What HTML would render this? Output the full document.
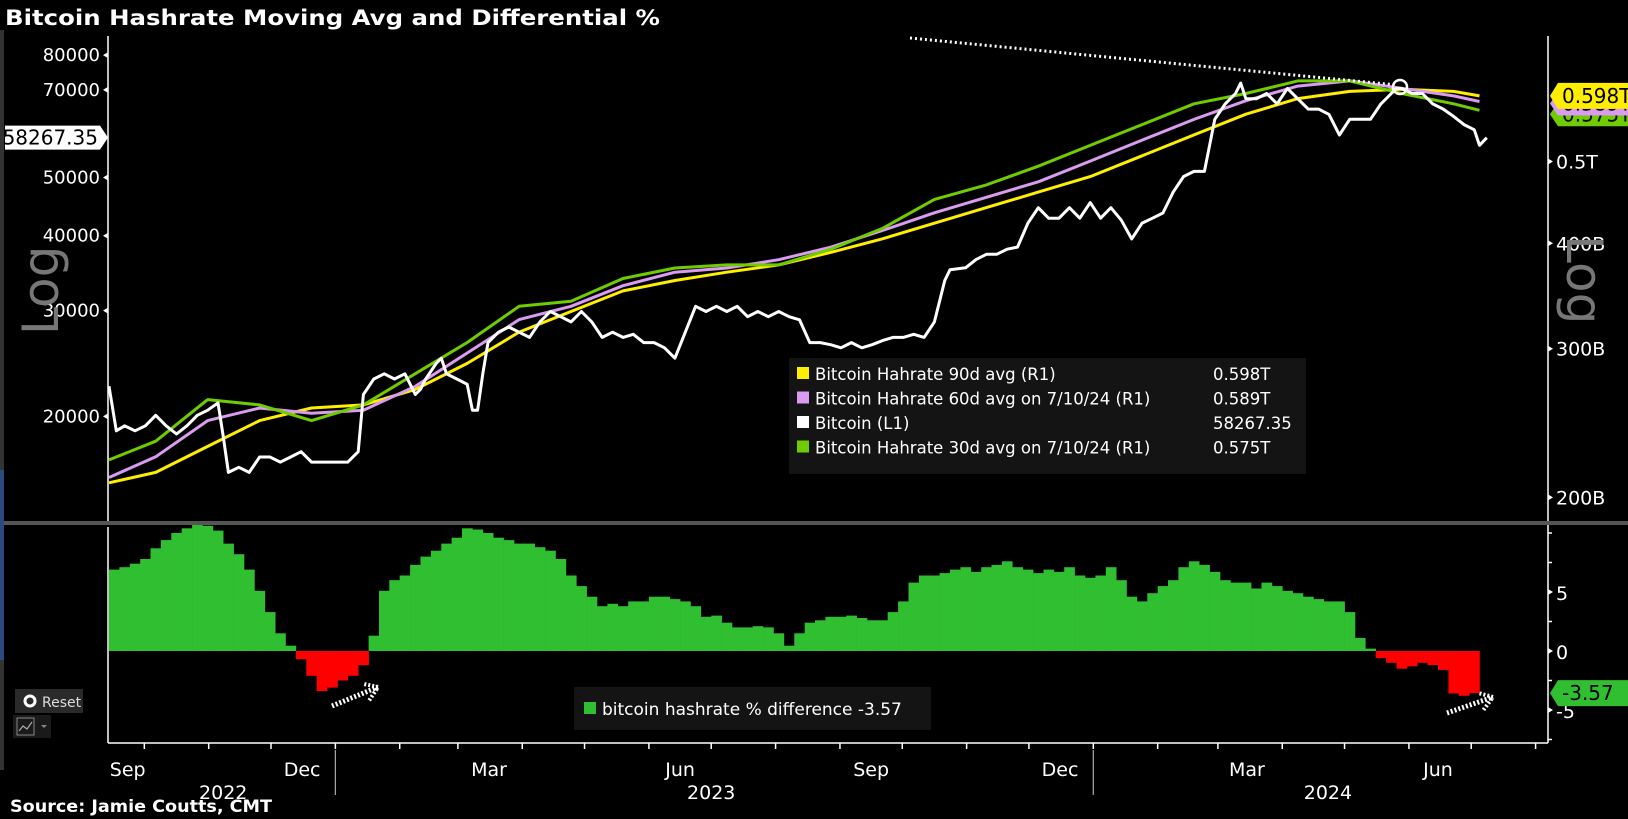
<!DOCTYPE html>
<html><head><meta charset="utf-8"><style>
html,body{margin:0;padding:0;background:#000;}
svg{display:block;font-family:"DejaVu Sans","Liberation Sans",sans-serif;}
</style></head><body>
<svg id="chart" width="1628" height="819" viewBox="0 0 1628 819" xmlns="http://www.w3.org/2000/svg">
<rect x="0" y="0" width="1628" height="819" fill="#000"/>
<rect x="0" y="30" width="4" height="740" fill="#333"/>
<rect x="0" y="470" width="4" height="190" fill="#2a4a80"/>
<text x="5" y="25" fill="#fff" font-weight="bold" font-size="21" textLength="655" lengthAdjust="spacingAndGlyphs">Bitcoin Hashrate Moving Avg and Differential %</text>
<text x="10" y="812" fill="#fff" font-weight="bold" font-size="17" textLength="262" lengthAdjust="spacingAndGlyphs">Source: Jamie Coutts, CMT</text>
<g id="topPanel"></g>
<g id="bottomPanel"></g>
<g id="axesGroup"></g>
</svg>
<script>
// ---- data ----
const btcSeries = [[0,22450],[3.5,18920],[7.5,19290],[12.5,18920],[17.5,19290],[22.5,20080],[27.5,19290],[32.5,18690],[37.5,19290],[42.5,20080],[47.5,20480],[52.5,21060],[55,18540],[57.5,16130],[62.5,16450],[67.5,16130],[72.5,17110],[77.5,17110],[82.5,16780],[87.5,17110],[92.5,17460],[97.5,16780],[107.5,16780],[115,16780],[120,17460],[122.5,21750],[127.5,23080],[132.5,23550],[137.5,23080],[142.5,23550],[147.5,21750],[150,22190],[152.5,23080],[157.5,24500],[160,25000],[162.5,23550],[167.5,23080],[172.5,22620],[175,20480],[177.5,20480],[180,23550],[182.5,26540],[187.5,27620],[192.5,28180],[197.5,27620],[202.5,27080],[207.5,28740],[212.5,29900],[217.5,29320],[222.5,28740],[227.5,29900],[232.5,28740],[237.5,27080],[242.5,27620],[247.5,27080],[252.5,27400],[257.5,26540],[262.5,26540],[267.5,26020],[272.5,25000],[277.5,27620],[282.5,30510],[287.5,29900],[292.5,30510],[297.5,29900],[302.5,30510],[307.5,29320],[312.5,29900],[317.5,29320],[322.5,29900],[327.5,29320],[332.5,28970],[337.5,26540],[342.5,26540],[347.5,26330],[352.5,26020],[357.5,26540],[362.5,26020],[367.5,26330],[372.5,26750],[377.5,27080],[382.5,27080],[387.5,27400],[392.5,27080],[397.5,28740],[402.5,33700],[405,35090],[412.5,35360],[417.5,36500],[422.5,37240],[427.5,37240],[432.5,37980],[437.5,38290],[442.5,41980],[447.5,44530],[452.5,42780],[457.5,42780],[462.5,44530],[467.5,42780],[472.5,45420],[477.5,42780],[482.5,44530],[487.5,42460],[492.5,39520],[497.5,41980],[502.5,42780],[507.5,43650],[512.5,47280],[517.5,50200],[522.5,51200],[527.5,51200],[532.5,62520],[537.5,66320],[542.5,69020],[545,71840],[547.5,67650],[552.5,67650],[557.5,69020],[562.5,66320],[567.5,70400],[572.5,67650],[577.5,65010],[582.5,65010],[587.5,63720],[592.5,58880],[597.5,62520],[602.5,62520],[607.5,62520],[612.5,66320],[617.5,69020],[620,70400],[622.5,70400],[627.5,69020],[632.5,69020],[637.5,66320],[642.5,65010],[647.5,63220],[652.5,61270],[657.5,60060],[660,56580],[663.5,58267.35]];
const maDay = [0,22.5,47.5,72.5,97.5,122.5,147.5,172.5,197.5,222.5,247.5,272.5,297.5,322.5,347.5,372.5,397.5,422.5,447.5,472.5,497.5,522.5,547.5,572.5,597.5,622.5,647.5,660];
const ma90 = [208.1,214.1,229.8,246.6,255.2,257.4,268.5,288.2,313.9,332.1,351.3,361.4,369.7,377.1,390.2,404.9,422.5,440.9,459.9,479.8,507.8,537.7,568.9,593.6,605.4,608.8,605.4,598];
const ma60 = [211.1,223.4,246.6,255.2,251.6,253.7,270.8,296.5,324.8,336.8,356.3,369.7,373.9,382.5,395.7,414.2,434.7,453.5,473.1,500.6,530.1,560.9,590.2,614.2,623,610.6,598,589];
const ma30 = [221.5,233.1,261.1,257.4,246.6,257.4,280.2,305.1,336.8,341.5,363.4,373.9,377.1,377.1,393.5,416.6,450.9,469.1,493.6,522.5,553,585.2,602,623,623,602,585.2,575];
const histDiff = [6.9,7.1,7.4,7.8,8.7,9.4,10,10.4,10.7,10.6,10.2,9.1,8.2,6.9,5.1,3.3,1.5,0.45,-0.7,-2.1,-3.4,-3.1,-2.5,-2.1,-1.2,1.3,5.1,6,6.4,7.3,8.0,8.5,9.1,9.6,10.4,10.3,10,9.6,9.4,9.1,9.1,8.8,8.5,7.8,6.4,5.5,4.6,3.8,4,3.8,4.2,4.2,4.6,4.6,4.4,4.2,3.8,2.9,3.0,2.4,2.0,2.0,2.1,2.0,1.5,0.45,1.5,2.4,2.6,2.9,2.9,3.0,2.8,2.6,2.6,3.3,4.2,5.8,6.4,6.4,6.6,6.9,7.1,6.7,7.1,7.3,7.6,7.1,6.9,6.6,6.9,6.7,7.1,6.4,6.2,6.4,7.1,6,4.6,4.2,4.9,5.5,6,7.1,7.6,7.3,6.7,6,5.8,5.8,5.3,5.8,5.5,5.1,4.9,4.6,4.4,4.2,4.2,3.3,1.1,0.2,-0.6,-1.0,-1.5,-1.3,-1.0,-1.2,-1.6,-3.6,-3.8,-3.57];
const leftTicks = [20000,30000,40000,50000,70000,80000];
const rightTicks = [200,300,400,500];
const rightTickLabels = ["200B","300B","400B","0.5T"];
const diffTicks = [-5,0,5];
const monthLabels = ["Sep","Dec","Mar","Jun","Sep","Dec","Mar","Jun"];
const monthLabelDay = [9,93,183,275,367,458,548,640];
const yearLabels = ["2022","2023","2024"];
const yearLabelDay = [55,290,587];
const yearSepDay = [109,474];
const legendNames = ["Bitcoin Hahrate 90d avg (R1)","Bitcoin Hahrate 60d avg  on 7/10/24 (R1)","Bitcoin (L1)","Bitcoin Hahrate 30d avg on 7/10/24 (R1)"];
const legendValues = ["0.598T","0.589T","58267.35","0.575T"];

// ---- scales ----
const S = 1628/1568;
const X0 = 108, X1 = 1548, TOP0 = 36, TOP1 = 521, BOT0 = 527, BOT1 = 743;
function xs(d){ return S*(105 + 2*d); }
function yL(v){ return S*(401 - 251*Math.log(v/20000)); }
function yR(v){ return S*(479 - 353*Math.log(v/200)); }
function yD(v){ return 651 - 11.8*v; }
const NS = "http://www.w3.org/2000/svg";
function mk(tag, attrs, parent){ const e = document.createElementNS(NS, tag); for (const k in attrs) e.setAttribute(k, attrs[k]); parent.appendChild(e); return e; }
const svgRoot = document.getElementById('chart');
const topG = document.getElementById('topPanel');
const botG = document.getElementById('bottomPanel');
const axG = document.getElementById('axesGroup');

const defs = mk('defs', {}, svgRoot);
const cp = mk('clipPath', {id:'clipTop'}, defs);
mk('rect', {x:X0, y:TOP0, width:X1-X0, height:TOP1-TOP0}, cp);
topG.setAttribute('clip-path','url(#clipTop)');

// ---- histogram ----
histDiff.forEach((v,i)=>{
  const d = 2.5 + 5*i;
  const xa = xs(d-2.5), xb = xs(d+2.5);
  const y0 = yD(0), y1 = yD(v);
  const r = mk('rect', {x:xa.toFixed(1), y:Math.min(y0,y1).toFixed(1), width:(xb-xa+0.3).toFixed(1), height:Math.max(0.5,Math.abs(y1-y0)).toFixed(1), fill: v>=0 ? '#30bf30' : '#ff0000'}, botG);
  
  
});

// ---- lines ----
function drawLine(days, vals, yfn, color, w, name){
  let p = '';
  days.forEach((d,i)=>{ p += (i?'L':'M') + xs(d).toFixed(1) + ' ' + yfn(vals[i]).toFixed(1); });
  const e = mk('path', {d:p, fill:'none', stroke:color, 'stroke-width':w, 'stroke-linejoin':'round'}, topG);
  
  
}
drawLine(maDay, ma90, yR, '#ffee00', 3, 'hashrate-90d-line');
drawLine(maDay, ma60, yR, '#da9cf0', 3, 'hashrate-60d-line');
drawLine(maDay, ma30, yR, '#6fcc00', 3, 'hashrate-30d-line');
drawLine(btcSeries.map(p=>p[0]), btcSeries.map(p=>p[1]), yL, '#ffffff', 3, 'bitcoin-price-line');

const tl = mk('line', {x1:910, y1:38, x2:1397, y2:85, stroke:'#fff', 'stroke-width':3, 'stroke-dasharray':'2 3'}, svgRoot);


const cc = mk('circle', {cx:1400, cy:87, r:7, fill:'none', stroke:'#fff', 'stroke-width':2.5}, svgRoot);



// ---- axes ----
mk('line', {x1:X0, y1:TOP0, x2:X0, y2:TOP1, stroke:'#fff', 'stroke-width':1.5}, axG);
mk('line', {x1:X0, y1:BOT0, x2:X0, y2:BOT1, stroke:'#fff', 'stroke-width':1.5}, axG);
mk('line', {x1:X1, y1:TOP0, x2:X1, y2:BOT1, stroke:'#fff', 'stroke-width':1.5}, axG);
mk('line', {x1:X0, y1:BOT1, x2:X1, y2:BOT1, stroke:'#fff', 'stroke-width':1.5}, axG);
const sep = mk('rect', {x:4, y:521, width:1624, height:4, fill:'#555'}, axG);



leftTicks.forEach(v=>{
  const y = yL(v);
  mk('path', {d:`M${X0} ${y-3}L${X0-5} ${y}L${X0} ${y+3}Z`, fill:'#fff'}, axG);
  const t = mk('text', {x:X0-8, y:y+6, fill:'#fff', 'font-size':18, 'text-anchor':'end'}, axG);
  t.textContent = v;
  
  
});
rightTicks.forEach((v,i)=>{
  const y = yR(v);
  mk('path', {d:`M${X1} ${y-3}L${X1+5} ${y}L${X1} ${y+3}Z`, fill:'#fff'}, axG);
  const t = mk('text', {x:X1+8, y:y+7, fill:'#fff', 'font-size':19}, axG);
  t.textContent = rightTickLabels[i];
  
  
});
diffTicks.forEach(v=>{
  const y = yD(v);
  mk('path', {d:`M${X1} ${y-3}L${X1+5} ${y}L${X1} ${y+3}Z`, fill:'#fff'}, axG);
  const t = mk('text', {x:X1+8, y:y+8, fill:'#fff', 'font-size':19}, axG);
  t.textContent = v;
  
  
});
[-7.5,-2.5,2.5,7.5,10].forEach(v=>{ mk('line',{x1:X1,y1:yD(v),x2:X1+4,y2:yD(v),stroke:'#fff','stroke-width':1.5},axG); });

const base = Date.UTC(2022,8,14);
for (let m = 9; m < 9+24; m++){
  const d = (Date.UTC(2022, m, 1) - base)/86400000;
  const x = xs(d);
  if (x > X1-5) break;
  mk('line', {x1:x, y1:BOT1, x2:x, y2:BOT1+6, stroke:'#fff', 'stroke-width':1.5}, axG);
}
monthLabels.forEach((m,i)=>{
  const t = mk('text', {x:xs(monthLabelDay[i]), y:776, fill:'#fff', 'font-size':19, 'text-anchor':'middle'}, axG);
  t.textContent = m;
  
  
});
yearLabels.forEach((m,i)=>{
  const t = mk('text', {x:xs(yearLabelDay[i]), y:799, fill:'#fff', 'font-size':19, 'text-anchor':'middle'}, axG);
  t.textContent = m;
  
  
});
yearSepDay.forEach(d=>{ mk('line', {x1:xs(d), y1:750, x2:xs(d), y2:795, stroke:'#aaa', 'stroke-width':1.2}, axG); });

// ---- legends ----
const lg = mk('g', {}, svgRoot);


mk('rect', {x:789, y:358, width:517, height:116, fill:'#141414'}, lg);
const lgColors = ['#ffee00','#da9cf0','#ffffff','#6fcc00'];
legendNames.forEach((n,i)=>{
  const y = 380 + i*24.5;
  const sw = mk('rect', {x:797, y:y-13, width:12, height:12, fill:lgColors[i]}, lg);
  
  
  const t = mk('text', {x:815, y:y, fill:'#fff', 'font-size':16.5}, lg);
  t.textContent = n;
  
  
  const tv = mk('text', {x:1213, y:y, fill:'#fff', 'font-size':16.5}, lg);
  tv.textContent = legendValues[i];
  
  
});
const lg2 = mk('g', {}, svgRoot);


mk('rect', {x:574, y:687, width:357, height:43, fill:'#141414'}, lg2);
mk('rect', {x:584, y:702, width:12, height:12, fill:'#30bf30'}, lg2);
const bl = mk('text', {x:602, y:715, fill:'#fff', 'font-size':17}, lg2);
bl.textContent = 'bitcoin hashrate % difference -3.57';



// ---- value tags ----
function tag(x, y, w, h, fill, txt, txtFill, side, name){
  const g = mk('g', {}, svgRoot);
  
  
  if (side === 'right') mk('path', {d:`M${x} ${y-h/2}L${x+w} ${y-h/2}L${x+w+8} ${y}L${x+w} ${y+h/2}L${x} ${y+h/2}Z`, fill}, g);
  else mk('path', {d:`M${x} ${y}L${x+8} ${y-h/2}L${x+w} ${y-h/2}L${x+w} ${y+h/2}L${x+8} ${y+h/2}Z`, fill}, g);
  const t = mk('text', {x: side==='right' ? x+w-2 : x+12, y:y+7, fill:txtFill, 'font-size':20, 'text-anchor': side==='right'?'end':'start'}, g);
  t.textContent = txt;
  return g;
}
tag(1550, yR(575)+4, 78, 24, '#6fcc00', '0.575T', '#000', 'left', 'tag-30d');
tag(1550, yR(589)+2, 78, 24, '#da9cf0', '0.589T', '#000', 'left', 'tag-60d');
tag(1550, yR(598), 78, 26, '#ffee00', '0.598T', '#000', 'left', 'tag-90d');
tag(5, yL(58267.35), 95, 24, '#ffffff', '58267.35', '#000', 'right', 'tag-bitcoin');
tag(1550, yD(-3.57), 78, 26, '#30bf30', '-3.57', '#000', 'left', 'tag-diff');

// ---- arrows ----
function arrow(x1,y1,x2,y2,name){
  const g = mk('g', {}, svgRoot);
  
  
  mk('line', {x1, y1, x2, y2, stroke:'#fff', 'stroke-width':5, 'stroke-dasharray':'2 2'}, g);
  const a = Math.atan2(y2-y1, x2-x1);
  const p1 = [x2-16*Math.cos(a-0.6), y2-16*Math.sin(a-0.6)];
  const p2 = [x2-16*Math.cos(a+0.6), y2-16*Math.sin(a+0.6)];
  mk('path', {d:`M${p1[0]} ${p1[1]}L${x2} ${y2}L${p2[0]} ${p2[1]}`, fill:'none', stroke:'#fff', 'stroke-width':4, 'stroke-dasharray':'2 2'}, g);
}
arrow(332, 706, 378, 687, 'annotation-arrow-2022');
arrow(1447, 713, 1493, 697, 'annotation-arrow-2024');

const lgL = mk('text', {x:0, y:0, fill:'#777', 'font-size':50, transform:'translate(58,335) rotate(-90)'}, svgRoot);
lgL.textContent = 'Log';


const lgR = mk('text', {x:0, y:0, fill:'#777', 'font-size':50, transform:'translate(1567,235) rotate(90)'}, svgRoot);
lgR.textContent = 'Log';



// ---- reset button ----
const rb = mk('g', {}, svgRoot);


mk('rect', {x:15, y:689, width:68, height:24, fill:'#2a2a2a'}, rb);
mk('circle', {cx:30, cy:701, r:5, fill:'none', stroke:'#fff', 'stroke-width':3}, rb);
const rt = mk('text', {x:42, y:707, fill:'#ddd', 'font-size':14}, rb);
rt.textContent = 'Reset';
const ci = mk('g', {}, svgRoot);


mk('rect', {x:13, y:715, width:38, height:23, fill:'#1a1a1a'}, ci);
mk('rect', {x:17, y:718, width:17, height:17, fill:'none', stroke:'#888', 'stroke-width':1}, ci);
mk('path', {d:'M19 731L23 726L27 729L32 722', fill:'none', stroke:'#aaa', 'stroke-width':1.2}, ci);
mk('path', {d:'M41 725L47 725L44 728Z', fill:'#888'}, ci);
</script>
</body></html>
